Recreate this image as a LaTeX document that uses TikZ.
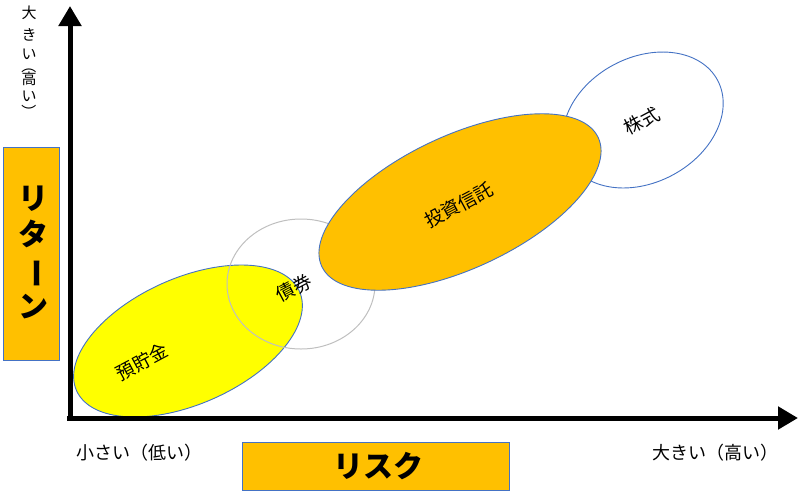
\documentclass[tikz,border=0pt]{standalone}
\usepackage{fontspec}
\usepackage{graphicx}
\newfontfamily\jp{Noto Sans CJK JP}
\usetikzlibrary{shapes.geometric,arrows.meta}
\definecolor{orng}{HTML}{FFC000}
\definecolor{yel}{HTML}{FFFF00}
\definecolor{bdr}{HTML}{4472C4}
\definecolor{gry}{HTML}{BFBFBF}
\tikzset{
  axis/.style={line width=5pt,-{Triangle[length=20pt,width=22pt]}},
  blob/.style={ellipse,draw=bdr,line width=0.9pt,inner sep=0pt,outer sep=0pt},
  lbl/.style={font=\jp\fontsize{18}{20}\selectfont,inner sep=0pt},
  vch/.style={font=\jp\fontsize{15}{16}\selectfont,inner sep=0pt},
  itm/.style={font=\jp\fontsize{18.5}{20}\selectfont,inner sep=0pt,rotate=28},
  tbox/.style={draw=bdr,line width=0.8pt,fill=orng,inner sep=0pt,outer sep=0pt}
}
\begin{document}
\begin{tikzpicture}[x=1pt,y=-1pt]
\useasboundingbox (0,0) rectangle (800,496);
% ellipses
\node[blob,fill=yel,minimum width=244pt,minimum height=126pt,rotate=24] (yokin) at (188,341) {};
\node[ellipse,draw=gry,line width=1pt,minimum width=148pt,minimum height=130pt,inner sep=0pt] (saiken) at (301,284) {};
\node[blob,fill=white,minimum width=169pt,minimum height=125pt,rotate=28] (kabu) at (643,120) {};
\node[blob,fill=orng,minimum width=305pt,minimum height=133pt,rotate=25] (toushin) at (460,202) {};
\node[itm] (tyokin) at (142,362) {預貯金};
\node[itm] (tsaiken) at (294,288) {債券};
\node[itm] (ttoushin) at (459,205) {投資信託};
\node[itm] (tkabu) at (642,121) {株式};
% axes
\coordinate (ytop) at (70,6);
\coordinate (xend) at (798,418);
\coordinate (ox) at (67,418);
\coordinate (oy) at (70,420.5);
\draw[axis] (oy) -- (ytop);
\draw[axis] (ox) -- (xend);
% vertical axis caption
\node[vch] (y1) at (29,13) {大};
\node[vch] (y2) at (29,35) {き};
\node[vch] (y3) at (29,54) {い};
\node[vch,rotate=-90] (y4) at (29,66) {（};
\node[vch] (y5) at (29,79) {高};
\node[vch] (y6) at (29,96) {い};
\node[vch,rotate=-90] (y7) at (29,112) {）};
\node[tbox,minimum width=56pt,minimum height=213pt] (ret) at (31.5,253.5) {};
\node[font=\jp\bfseries\fontsize{30}{36}\selectfont,align=center,inner sep=0pt] (tret) at (33,252) {リ\\タ\\\rotatebox[origin=c]{-90}{ー}\\ン};
\node[tbox,minimum width=267pt,minimum height=48pt] (risk) at (375.5,466) {};
\node[font=\jp\bfseries\fontsize{30}{36}\selectfont,inner sep=0pt] (trisk) at (378,466) {リスク};
\node[lbl] (small) at (139,453) {小さい（低い）};
\node[lbl] (large) at (715,453) {大きい（高い）};
\end{tikzpicture}
\end{document}
